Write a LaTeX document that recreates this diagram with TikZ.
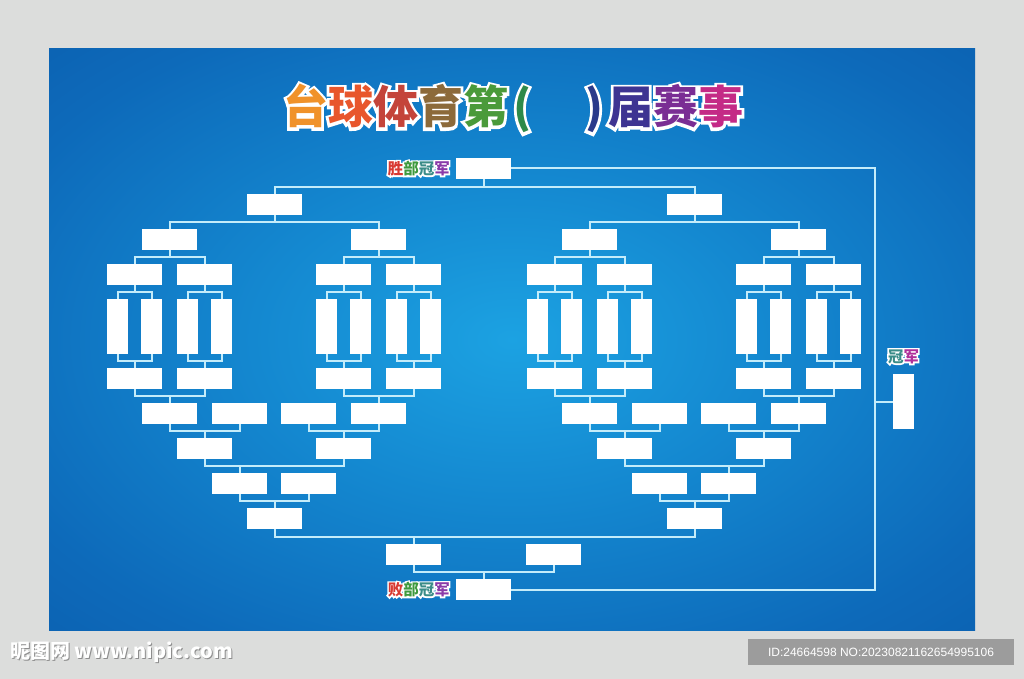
\documentclass[tikz,border=0pt]{standalone}
\usepackage{fontspec}
\usetikzlibrary{positioning}
\newfontfamily\cjk{Noto Sans CJK SC}
\newfontfamily\cjkhalo[FakeBold=12]{Noto Sans CJK SC}
\newfontfamily\cjkhalothin[FakeBold=20]{Noto Sans CJK SC}
\setsansfont{Liberation Sans}

\definecolor{pagegrey}{HTML}{DCDDDC}
\definecolor{linkc}{HTML}{C4ECFA}
\definecolor{glowA}{HTML}{1CA2E2}
\definecolor{glowB}{HTML}{1488D0}
\definecolor{glowC}{HTML}{0D6ABA}
\definecolor{glowD}{HTML}{0A52A2}
\definecolor{idgrey}{HTML}{9C9C9C}
\definecolor{markgrey}{HTML}{8E8E8E}
\definecolor{tA}{HTML}{F0922A}
\definecolor{tB}{HTML}{E8562C}
\definecolor{tC}{HTML}{C4443A}
\definecolor{tD}{HTML}{8C6A3A}
\definecolor{tE}{HTML}{4A9A3A}
\definecolor{tF}{HTML}{2E8A4A}
\definecolor{tG}{HTML}{2A3A8A}
\definecolor{tH}{HTML}{3E3492}
\definecolor{tI}{HTML}{7A2E94}
\definecolor{tJ}{HTML}{C42A86}
\definecolor{tagR}{HTML}{D83A32}
\definecolor{tagG}{HTML}{3E9A3E}
\definecolor{tagT}{HTML}{3A8C88}
\definecolor{tagP}{HTML}{8A3AA8}
\definecolor{tagM}{HTML}{B0309A}

\pgfdeclareradialshading{panelglow}{\pgfpoint{0bp}{0bp}}{%
  color(0bp)=(glowA); color(14bp)=(glowB); color(30bp)=(glowC); color(50bp)=(glowD)}

\newcommand{\hue}[2]{\textcolor{#1}{#2}}
\newcommand{\plainhue}[2]{#2}
\newcommand{\titletext}{\hue{tA}{台}\hue{tB}{球}\hue{tC}{体}\hue{tD}{育}\hue{tE}{第}%
  \hspace{5pt}\hue{tF}{(}\hspace{54pt}\hue{tG}{)}\hspace{5pt}\hue{tH}{届}\hue{tI}{赛}\hue{tJ}{事}}
\newcommand{\wintext}{\hue{tagR}{胜}\hue{tagG}{部}\hue{tagT}{冠}\hue{tagP}{军}}
\newcommand{\losetext}{\hue{tagR}{败}\hue{tagG}{部}\hue{tagT}{冠}\hue{tagP}{军}}
\newcommand{\champtext}{\hue{tagT}{冠}\hue{tagM}{军}}

\tikzset{
  slot/.style={fill=white, minimum width=55pt, minimum height=21pt, inner sep=0pt, outer sep=0pt},
  tallslot/.style={slot, minimum width=21pt, minimum height=55pt},
  link/.style={draw=linkc, line width=2pt},
  halo/.style={text=#1, inner sep=0pt, execute at begin node={\let\hue\plainhue}},
  halo/.default=white,
  titlefont/.style={font=\cjk\bfseries\fontsize{45}{45}\selectfont, inner sep=0pt},
  titlehalo/.style={halo, font=\cjkhalo\bfseries\fontsize{45}{45}\selectfont},
  tagfont/.style={font=\cjk\bfseries\fontsize{15.5}{15.5}\selectfont, inner sep=0pt},
  taghalo/.style={halo, font=\cjkhalothin\bfseries\fontsize{15.5}{15.5}\selectfont},
  markfont/.style={font=\cjk\bfseries\fontsize{20}{20}\selectfont, inner sep=0pt, anchor=west},
}

\begin{document}
\begin{tikzpicture}[x=1pt, y=-1pt]
  \useasboundingbox (0,0) rectangle (1024,679);
  \fill[pagegrey] (0,0) rectangle (1024,679);
  \shade[shading=panelglow] (49,49) rectangle (975,630);

  % title
  \node[titlehalo, anchor=base] (ttlhalo) at (513,124) {\titletext};
  \node[titlefont, anchor=base] (ttl) at (513,124) {\titletext};

  % the two halves of the bracket
  \foreach \side/\dx/\k in {L/0/1, R/420/2} {
    \begin{scope}[xshift=\dx pt]
      \node[slot] (\side-w) at (274.5,204.5) {};
      \node[slot] (\side-u1) at (169.5,239.5) {};
      \node[slot] (\side-u2) at (378.5,239.5) {};
      \draw[link] (\side-w.south) -- ++(0,7);
      \draw[link] (\side-u1.north) -- ++(0,-7) -| (\side-u2.north);
      \foreach \i/\x in {1/134.5, 2/204.5, 3/343.5, 4/413.5} {
        \node[slot] (\side-v\i) at (\x,274.5) {};
        \node[tallslot] (\side-ta\i) at (\x-17,326.5) {};
        \node[tallslot] (\side-tb\i) at (\x+17,326.5) {};
        \node[slot] (\side-m\i) at (\x,378.5) {};
        \draw[link] (\side-v\i.south) -- ++(0,7);
        \draw[link] (\side-ta\i.north) -- ++(0,-7) -| (\side-tb\i.north);
        \draw[link] (\side-ta\i.south) -- ++(0,7) -| (\side-tb\i.south);
        \draw[link] (\side-m\i.north) -- ++(0,-7);
      }
      \draw[link] (\side-u1.south) -- ++(0,7);
      \draw[link] (\side-v1.north) -- ++(0,-7) -| (\side-v2.north);
      \draw[link] (\side-u2.south) -- ++(0,7);
      \draw[link] (\side-v3.north) -- ++(0,-7) -| (\side-v4.north);

      \node[slot] (\side-c1) at (169.5,413.5) {};
      \node[slot] (\side-c2) at (239.5,413.5) {};
      \node[slot] (\side-c3) at (308.5,413.5) {};
      \node[slot] (\side-c4) at (378.5,413.5) {};
      \node[slot] (\side-d1) at (204.5,448.5) {};
      \node[slot] (\side-d2) at (343.5,448.5) {};
      \node[slot] (\side-e1) at (239.5,483.5) {};
      \node[slot] (\side-e2) at (308.5,483.5) {};
      \node[slot] (\side-f) at (274.5,518.5) {};
      \draw[link] (\side-m1.south) -- ++(0,7) -| (\side-m2.south);
      \draw[link] (\side-c1.north) -- ++(0,-7);
      \draw[link] (\side-m3.south) -- ++(0,7) -| (\side-m4.south);
      \draw[link] (\side-c4.north) -- ++(0,-7);
      \draw[link] (\side-c1.south) -- ++(0,7) -| (\side-c2.south);
      \draw[link] (\side-d1.north) -- ++(0,-7);
      \draw[link] (\side-c3.south) -- ++(0,7) -| (\side-c4.south);
      \draw[link] (\side-d2.north) -- ++(0,-7);
      \draw[link] (\side-d1.south) -- ++(0,7) -| (\side-d2.south);
      \draw[link] (\side-e\k.north) -- ++(0,-7);
      \draw[link] (\side-e1.south) -- ++(0,7) -| (\side-e2.south);
      \draw[link] (\side-f.north) -- ++(0,-7);
    \end{scope}
  }

  % finals
  \node[slot] (wchamp) at (483.5,168.5) {};
  \node[slot] (g1) at (413.5,554.5) {};
  \node[slot] (g2) at (553.5,554.5) {};
  \node[slot] (lchamp) at (483.5,589.5) {};
  \node[tallslot] (champ) at (903.5,401.5) {};
  \coordinate (rail) at (875,401.5);
  \draw[link] (L-w.north) -- ++(0,-7.5) -| (R-w.north);
  \draw[link] (wchamp.south) -- ++(0,7.5);
  \draw[link] (L-f.south) -- ++(0,7.5) -| (R-f.south);
  \draw[link] (g1.north) -- ++(0,-7.5);
  \draw[link] (g1.south) -- ++(0,7) -| (g2.south);
  \draw[link] (lchamp.north) -- ++(0,-7);
  \draw[link] (wchamp.east) -| (rail) |- (lchamp.east);
  \draw[link] (rail) -- (champ.west);

  \node[taghalo, left=6pt of wchamp] (wtaghalo) {\wintext};
  \node[tagfont, left=6pt of wchamp] (wtag) {\wintext};
  \node[taghalo, left=6pt of lchamp] (ltaghalo) {\losetext};
  \node[tagfont, left=6pt of lchamp] (ltag) {\losetext};
  \node[taghalo, above=10pt of champ] (ctaghalo) {\champtext};
  \node[tagfont, above=10pt of champ] (ctag) {\champtext};

  % watermark strip
  \node[markfont, text=markgrey] (markshade) at (11.2,653.2) {昵图网 www.nipic.com};
  \node[markfont, text=white] (mark) at (10,652) {昵图网 www.nipic.com};
  \node[fill=idgrey, minimum width=266pt, minimum height=26pt, text=white, font=\sffamily\fontsize{12}{12}\selectfont] (idtag) at (881,652) {ID:24664598 NO:20230821162654995106};
\end{tikzpicture}
\end{document}
